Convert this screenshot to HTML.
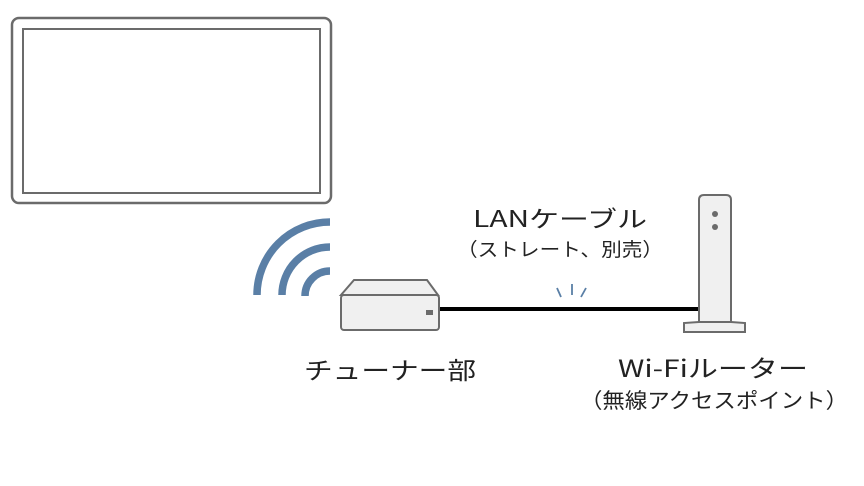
<!DOCTYPE html>
<html><head><meta charset="utf-8"><style>
html,body{margin:0;padding:0;background:#fff;}
svg{display:block;}
text{font-family:"Noto Sans CJK JP",sans-serif;font-weight:400;fill:#222;}
</style></head><body>
<svg width="864" height="486" viewBox="0 0 864 486">
<rect x="12" y="18" width="319" height="185" rx="7" fill="#fff" stroke="#6b6b6b" stroke-width="2.5"/>
<rect x="23" y="29" width="297" height="164" fill="#fff" stroke="#6b6b6b" stroke-width="2"/>
<g fill="none" stroke="#5a7fa6" stroke-width="7.5">
<path d="M257 295 A73 73 0 0 1 330 222"/>
<path d="M282 295 A48 48 0 0 1 330 247"/>
<path d="M305 296 A25 25 0 0 1 330 271"/>
</g>
<line x1="438" y1="309" x2="700" y2="309" stroke="#000" stroke-width="4"/>
<path d="M354 280 H427 L438 295 H341 Z" fill="#f0f0f0" stroke="#6b6b6b" stroke-width="2"/>
<rect x="341" y="295" width="98" height="35" rx="3" fill="#f0f0f0" stroke="#6b6b6b" stroke-width="2"/>
<rect x="426" y="310" width="7" height="5" fill="#6b6b6b"/>
<g stroke="#5a7fa6" stroke-width="1.8">
<line x1="557" y1="288" x2="561" y2="297"/>
<line x1="572" y1="284" x2="572" y2="295"/>
<line x1="586" y1="288" x2="581" y2="297"/>
</g>
<path d="M699 200 Q699 195 704 195 H726 Q731 195 731 200 V322 H699 Z" fill="#f0f0f0" stroke="#6b6b6b" stroke-width="2"/>
<path d="M699 322 H731 L745 323 V332 H684 V323 Z" fill="#f0f0f0" stroke="#6b6b6b" stroke-width="2"/>
<circle cx="715" cy="214" r="3" fill="#6b6b6b"/>
<circle cx="715" cy="227" r="3" fill="#6b6b6b"/>
<text x="473" y="227" font-size="23" textLength="174" lengthAdjust="spacingAndGlyphs">LANケーブル</text>
<text x="457" y="256" font-size="19" textLength="206" lengthAdjust="spacingAndGlyphs">（ストレート、別売）</text>
<text x="304" y="379" font-size="24" textLength="172" lengthAdjust="spacingAndGlyphs">チューナー部</text>
<text x="618" y="377" font-size="24" textLength="190" lengthAdjust="spacingAndGlyphs">Wi-Fiルーター</text>
<text x="580" y="408" font-size="21" textLength="268" lengthAdjust="spacingAndGlyphs">（無線アクセスポイント）</text>
</svg>
</body></html>
